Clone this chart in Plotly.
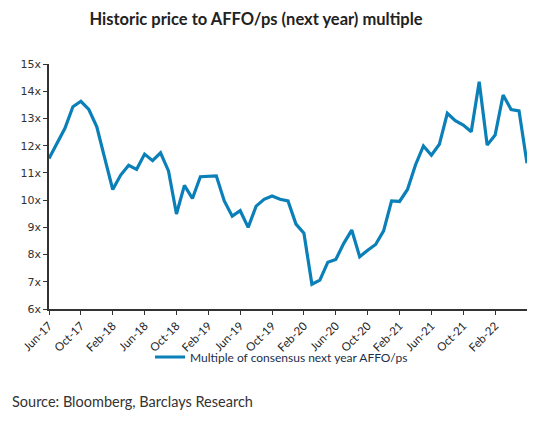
import plotly.graph_objects as go

months = ["Jun-17","Jul-17","Aug-17","Sep-17","Oct-17","Nov-17","Dec-17","Jan-18","Feb-18","Mar-18",
          "Apr-18","May-18","Jun-18","Jul-18","Aug-18","Sep-18","Oct-18","Nov-18","Dec-18","Jan-19",
          "Feb-19","Mar-19","Apr-19","May-19","Jun-19","Jul-19","Aug-19","Sep-19","Oct-19","Nov-19",
          "Dec-19","Jan-20","Feb-20","Mar-20","Apr-20","May-20","Jun-20","Jul-20","Aug-20","Sep-20",
          "Oct-20","Nov-20","Dec-20","Jan-21","Feb-21","Mar-21","Apr-21","May-21","Jun-21","Jul-21",
          "Aug-21","Sep-21","Oct-21","Nov-21","Dec-21","Jan-22","Feb-22","Mar-22","Apr-22","May-22","Jun-22"]
multiple = [11.53, 12.08, 12.64, 13.43, 13.63, 13.33, 12.69, 11.53, 10.39, 10.92,
            11.28, 11.13, 11.69, 11.45, 11.74, 11.07, 9.49, 10.54, 10.06, 10.86,
            10.88, 10.89, 9.97, 9.41, 9.61, 9.00, 9.78, 10.03, 10.15, 10.03,
            9.97, 9.12, 8.78, 6.91, 7.06, 7.72, 7.82, 8.41, 8.90, 7.92,
            8.16, 8.37, 8.87, 9.97, 9.95, 10.39, 11.29, 11.99, 11.65, 12.05,
            13.19, 12.92, 12.76, 12.51, 14.35, 12.02, 12.39, 13.86, 13.33, 13.28, 11.35]
tick_labels = months[:-1:4]
y_ticks = [6, 7, 8, 9, 10, 11, 12, 13, 14, 15]
y_tick_text = [f"{v}x" for v in y_ticks]

idx = list(range(len(months)))

fig = go.Figure()
fig.add_trace(go.Scatter(
    x=idx, y=multiple, mode="lines",
    name="Multiple of consensus next year AFFO/ps",
    line=dict(color="#0B80B8", width=3.2),
))

fig.update_layout(
    width=541, height=429,
    margin=dict(l=49, r=14, t=64, b=120, autoexpand=False),
    paper_bgcolor="white", plot_bgcolor="white",
    title=dict(text="<b>Historic price to AFFO/ps (next year) multiple</b>",
               x=256/541, xanchor="center", y=1-19/429, yanchor="middle",
               font=dict(family="Lato", size=16.5, color="#222222")),
    showlegend=True,
    legend=dict(orientation="h", x=(150-49)/478, xanchor="left",
                y=(309-357)/245, yanchor="middle",
                font=dict(family="Lato", size=12, color="#1c2f4a"),
                bgcolor="rgba(0,0,0,0)"),
    xaxis=dict(range=[0, 60], tickmode="array", tickvals=idx[:-1:4], ticktext=tick_labels,
               tickangle=-45, showgrid=False, zeroline=False, automargin=False,
               showline=True, linecolor="#333333", linewidth=1.5,
               ticks="outside", ticklen=4, tickcolor="#333333", tickwidth=1.2,
               tickfont=dict(family="Lato", size=11.5, color="#222222")),
    yaxis=dict(range=[6, 15], tickmode="array", tickvals=y_ticks, ticktext=y_tick_text,
               showgrid=False, zeroline=False, automargin=False,
               showline=True, linecolor="#333333", linewidth=1.5,
               ticks="outside", ticklen=4, tickcolor="#333333", tickwidth=1.2,
               tickfont=dict(family="DejaVu Sans", size=11, color="#333333")),
    annotations=[dict(text="Source: Bloomberg, Barclays Research", xref="paper", yref="paper",
                      x=-39/478, xanchor="left", y=(309-401)/245, yanchor="middle",
                      showarrow=False, font=dict(family="Lato", size=14.5, color="#333333"))],
)

fig.write_html("out.html", config={"displayModeBar": False},
               post_script="document.body.style.margin='0';")
